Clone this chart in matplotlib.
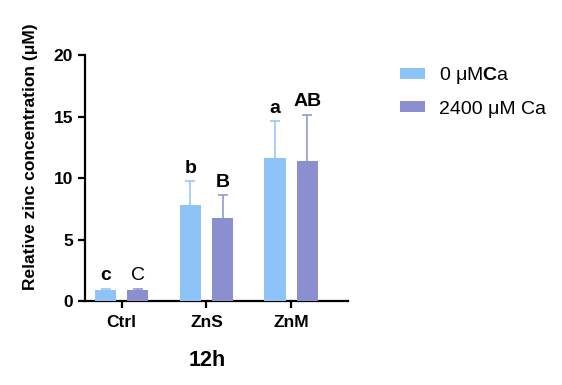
import numpy as np
import matplotlib.pyplot as plt

plt.rcParams['font.family'] = ['Liberation Sans', 'DejaVu Sans']
plt.rcParams['mathtext.fontset'] = 'custom'
plt.rcParams['mathtext.rm'] = 'Liberation Sans'
plt.rcParams['mathtext.bf'] = 'Liberation Sans:bold'

groups = ["Ctrl", "ZnS", "ZnM"]
ca0_mean = [0.9, 7.8, 11.65]
ca0_err = [0.1, 1.95, 2.95]
ca2400_mean = [0.9, 6.75, 11.4]
ca2400_err = [0.1, 1.85, 3.75]
ca0_letters = ["c", "b", "a"]
ca2400_letters = ["C", "B", "AB"]

light = "#8EC3F8"
dark = "#8B8FD0"

fig = plt.figure(figsize=(5.62, 3.85), dpi=100)
ax = fig.add_axes([0.151, 0.218, 0.468, 0.639])

x = np.arange(len(groups))
w = 0.25
off = 0.19

ax.bar(x - off, ca0_mean, w, color=light, label="0 μM$\\mathbf{C}$a", zorder=3)
ax.bar(x + off, ca2400_mean, w, color=dark, label="2400 μM Ca", zorder=3)
# symmetric error bars drawn behind the bars so only the upper half shows
ax.errorbar(x - off, ca0_mean, yerr=ca0_err, fmt="none",
            ecolor=light, elinewidth=1.1, capsize=3.6, capthick=1.1, zorder=2)
ax.errorbar(x + off, ca2400_mean, yerr=ca2400_err, fmt="none",
            ecolor=dark, elinewidth=1.1, capsize=3.6, capthick=1.1, zorder=2)

# significance letters
for i in range(3):
    ax.text(x[i] - off, ca0_mean[i] + ca0_err[i] + 0.7, ca0_letters[i],
            ha="center", va="baseline", fontsize=14, fontweight="bold")
    wt = "normal" if ca2400_letters[i] == "C" else "bold"
    ax.text(x[i] + off, ca2400_mean[i] + ca2400_err[i] + 0.7, ca2400_letters[i],
            ha="center", va="baseline", fontsize=14, fontweight=wt)

ax.set_xlim(-0.435, 2.67)
ax.set_ylim(0, 20)
ax.set_yticks([0, 5, 10, 15, 20])
ax.set_xticks(x)
ax.set_xticklabels(groups, fontweight="bold", fontsize=12.5)
for lab in ax.get_yticklabels():
    lab.set_fontweight("bold")
    lab.set_fontsize(12.5)
ax.set_ylabel("Relative zinc concentration (μM)", fontweight="bold", fontsize=12.5)
ax.yaxis.set_label_coords(-0.179, 0.585)
ax.set_xlabel("12h", fontweight="bold", fontsize=15.5)
ax.xaxis.set_label_coords(0.464, -0.2)

for s in ["top", "right"]:
    ax.spines[s].set_visible(False)
for s in ["left", "bottom"]:
    ax.spines[s].set_linewidth(1.6)
ax.tick_params(width=1.6, length=5)
ax.tick_params(axis="x", pad=5)

ax.legend(loc="upper left", bbox_to_anchor=(1.13, 1.03), frameon=False,
          fontsize=14, handlelength=1.3, handleheight=0.5, handletextpad=0.75,
          labelspacing=0.75)

fig.savefig("out.png", dpi=100)
